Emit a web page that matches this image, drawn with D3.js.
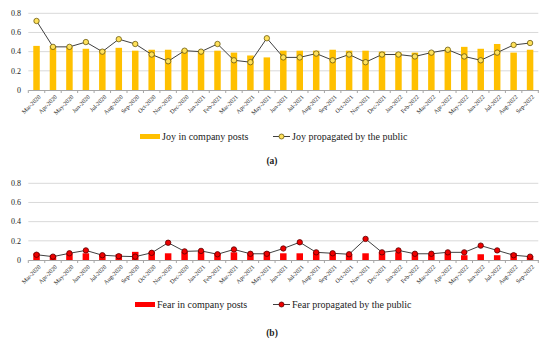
<!DOCTYPE html>
<html>
<head>
<meta charset="utf-8">
<script src="https://cdn.jsdelivr.net/npm/d3@7"></script>
<style>
  body { margin: 0; background: #fff; }
  svg text { font-family: "Liberation Serif", "DejaVu Serif", serif; fill: #222; }
</style>
</head>
<body>
<div id="chart"></div>
<script>
const months = ['Mar-2020','Apr-2020','May-2020','Jun-2020','Jul-2020','Aug-2020','Sep-2020','Oct-2020',
  'Nov-2020','Dec-2020','Jan-2021','Feb-2021','Mar-2021','Apr-2021','May-2021','Jun-2021','Jul-2021',
  'Aug-2021','Sep-2021','Oct-2021','Nov-2021','Dec-2021','Jan-2022','Feb-2022','Mar-2022','Apr-2022',
  'May-2022','Jun-2022','Jul-2022','Aug-2022','Sep-2022'];

const joyCompany = [0.46,0.46,0.45,0.43,0.42,0.44,0.41,0.42,0.42,0.42,0.41,0.41,0.39,0.36,0.34,0.41,
  0.41,0.41,0.42,0.41,0.41,0.40,0.39,0.39,0.40,0.42,0.45,0.43,0.48,0.39,0.42];
const joyPublic = [0.72,0.45,0.45,0.50,0.40,0.53,0.48,0.37,0.30,0.41,0.40,0.48,0.31,0.29,0.54,0.34,
  0.34,0.38,0.31,0.37,0.29,0.37,0.37,0.35,0.39,0.42,0.35,0.31,0.39,0.47,0.49];

const fearCompany = [0.07,0.05,0.07,0.07,0.06,0.06,0.085,0.085,0.07,0.085,0.09,0.07,0.08,0.07,0.085,0.07,
  0.07,0.085,0.07,0.06,0.07,0.08,0.08,0.07,0.06,0.075,0.05,0.06,0.05,0.07,0.04];
const fearPublic = [0.055,0.035,0.07,0.10,0.05,0.04,0.035,0.075,0.18,0.09,0.095,0.06,0.11,0.065,0.065,0.12,
  0.185,0.08,0.07,0.06,0.22,0.08,0.10,0.065,0.065,0.08,0.08,0.15,0.10,0.05,0.035];

const yTicks = [0, 0.2, 0.4, 0.6, 0.8];

const svg_width = 550, svg_height = 339;
const svg = d3.select('#chart').append('svg')
  .attr('width', svg_width).attr('height', svg_height);

const xScale = d3.scaleBand().domain(months).range([28.3, 538.3]);

function drawPanel(opt){
  const g = svg.append('g');
  const yScale = d3.scaleLinear().domain([0, 0.8]).range([opt.y0, opt.y0 - 76.7]);

  // gridlines
  g.append('g').selectAll('line').data(yTicks.slice(1)).join('line')
    .attr('x1', xScale.range()[0]).attr('x2', xScale.range()[1])
    .attr('y1', d => yScale(d)).attr('y2', d => yScale(d))
    .attr('stroke', '#d9d9d9').attr('stroke-width', 1);

  // y labels
  g.append('g').selectAll('text').data(yTicks).join('text')
    .attr('x', 21).attr('y', d => yScale(d)).attr('dy', '0.35em')
    .attr('text-anchor', 'end').style('font-size', '8px')
    .text(d => d3.format('~g')(d));

  // bars
  const bw = 6.5;
  g.append('g').selectAll('rect').data(opt.bars).join('rect')
    .attr('x', (d, i) => xScale(months[i]) + xScale.bandwidth() / 2 - bw / 2)
    .attr('y', d => yScale(d))
    .attr('width', bw)
    .attr('height', d => yScale(0) - yScale(d))
    .attr('fill', opt.barColor);

  // x axis
  const xAxis = d3.axisBottom(xScale).tickSize(0).tickFormat('');
  const ax = g.append('g').attr('transform', `translate(0,${yScale(0)})`).call(xAxis);
  ax.select('.domain').attr('stroke', '#a6a6a6');
  const bounds = months.map(m => xScale(m)).concat([xScale.range()[1]]);
  ax.selectAll('.bnd').data(bounds).join('line').attr('class', 'bnd')
    .attr('x1', d => d).attr('x2', d => d).attr('y1', 0).attr('y2', 3)
    .attr('stroke', '#a6a6a6');
  g.append('g').selectAll('text').data(months).join('text')
    .attr('transform', d => `translate(${xScale(d) + xScale.bandwidth() / 2 + 3},${yScale(0) + 6}) rotate(-45)`)
    .attr('text-anchor', 'end').attr('dy', '0.35em')
    .style('font-size', '6px')
    .text(d => d);

  // line
  const line = d3.line().x((d, i) => xScale(months[i]) + xScale.bandwidth() / 2).y(d => yScale(d));
  g.append('path').datum(opt.points).attr('d', line)
    .attr('fill', 'none').attr('stroke', '#404040').attr('stroke-width', 1);
  g.append('g').selectAll('circle').data(opt.points).join('circle')
    .attr('cx', (d, i) => xScale(months[i]) + xScale.bandwidth() / 2)
    .attr('cy', d => yScale(d)).attr('r', 2.7)
    .attr('fill', opt.dotFill).attr('stroke', opt.dotStroke).attr('stroke-width', 0.8);

  // legend
  const ly = opt.legendY;
  g.append('rect').attr('x', opt.rectX).attr('y', ly - 2.5).attr('width', 20).attr('height', 5)
    .attr('fill', opt.barColor);
  g.append('text').attr('x', opt.rectX + 22).attr('y', ly).attr('dy', '0.35em')
    .style('font-size', '10px').text(opt.barLabel);
  g.append('line').attr('x1', 273).attr('x2', 290).attr('y1', ly).attr('y2', ly)
    .attr('stroke', '#404040').attr('stroke-width', 1);
  g.append('circle').attr('cx', 281.5).attr('cy', ly).attr('r', 2.5)
    .attr('fill', opt.dotFill).attr('stroke', opt.dotStroke).attr('stroke-width', 0.8);
  g.append('text').attr('x', 292).attr('y', ly).attr('dy', '0.35em')
    .style('font-size', '10px').text(opt.lineLabel);

  // caption
  g.append('text').attr('x', 272).attr('y', opt.captionY).attr('dy', '0.35em')
    .attr('text-anchor', 'middle').style('font-size', '9.5px').style('font-weight', 'bold')
    .text(opt.caption);
}

drawPanel({
  y0: 90, bars: joyCompany, points: joyPublic,
  barColor: '#ffc000', dotFill: '#ffe15a', dotStroke: '#6b5a10',
  barLabel: 'Joy in company posts', lineLabel: 'Joy propagated by the public',
  rectX: 140, legendY: 136.5, caption: '(a)', captionY: 161
});
drawPanel({
  y0: 260, bars: fearCompany, points: fearPublic,
  barColor: '#ff0000', dotFill: '#ee0000', dotStroke: '#5a0000',
  barLabel: 'Fear in company posts', lineLabel: 'Fear propagated by the public',
  rectX: 135, legendY: 304.5, caption: '(b)', captionY: 333
});
</script>
</body>
</html>
